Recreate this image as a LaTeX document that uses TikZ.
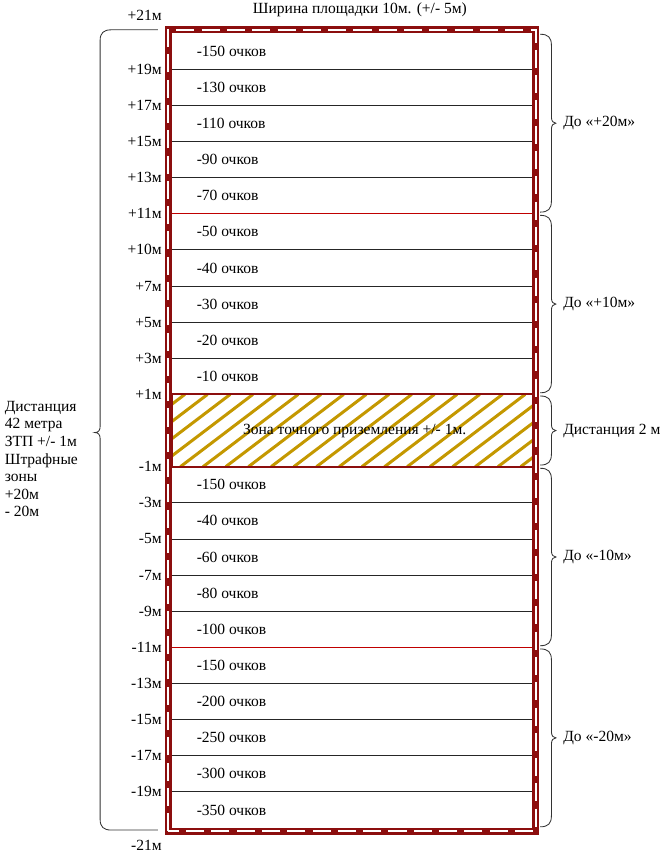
\documentclass[tikz,border=0pt]{standalone}
\usepackage{fontspec}
\setmainfont{Liberation Serif}

\definecolor{borderred}{RGB}{140,14,14}
\definecolor{linered}{RGB}{192,0,0}
\definecolor{hatchgold}{RGB}{196,152,0}

\tikzset{bracestyle/.style={black!80, line width=0.6pt},
  bracelabel/.style={anchor=west, inner sep=0}}

% right-hand brace: top, bottom, node name, text
\newcommand{\zonebrace}[4]{%
  \pgfmathsetmacro{\bracemid}{(#1+#2)/2}
  \draw[bracestyle] (9.17,#1) .. controls (9.37,#1) and (9.45,#1-0.08) .. (9.45,#1-0.28)
    -- (9.45,\bracemid+0.15) .. controls (9.45,\bracemid+0.05) and (9.5,\bracemid) .. (9.56,\bracemid)
    .. controls (9.5,\bracemid) and (9.45,\bracemid-0.05) .. (9.45,\bracemid-0.15)
    -- (9.45,#2+0.28) .. controls (9.45,#2+0.08) and (9.37,#2) .. (9.17,#2);
  \node[bracelabel] (#3) at (9.74,\bracemid) {#4};
}

\begin{document}
\begin{tikzpicture}[font=\fontsize{11}{12.5}\selectfont,
    score/.style={anchor=west, inner sep=0},
    level/.style={anchor=east, inner sep=0},
    rowline/.style={black!85, line width=0.6pt},
    limitline/.style={linered, line width=0.6pt}]
    \useasboundingbox (-4.284, -0.672) rectangle (12.354, 20.623);

    \node (width) at (4.68, 20.37) {Ширина площадки 10м. (+/- 5м)};

    % touchdown zone
    \begin{scope}
      \clip (0, 9.0) rectangle (9.0, 10.8);
      \foreach \x in {-2.05, -1.485, ..., 9.2}
        \draw [hatchgold, line width=0.075cm] (\x, 9.0) -- (\x+2.37, 10.8);
    \end{scope}
    \draw [borderred, line width=1.4pt] (0, 9.0) rectangle (9.0, 10.8);
    \node (zone) at (4.55, 9.9) {Зона точного приземления +/- 1м.};

    \draw [rowline] (0, 18.9) -- (9.0, 18.9);
    \draw [rowline] (0, 18.0) -- (9.0, 18.0);
    \draw [rowline] (0, 17.1) -- (9.0, 17.1);
    \draw [rowline] (0, 16.2) -- (9.0, 16.2);
    \draw [limitline] (0, 15.3) -- (9.0, 15.3);
    \draw [rowline] (0, 14.4) -- (9.0, 14.4);
    \draw [rowline] (0, 13.5) -- (9.0, 13.5);
    \draw [rowline] (0, 12.6) -- (9.0, 12.6);
    \draw [rowline] (0, 11.7) -- (9.0, 11.7);
    \draw [rowline] (0, 8.1) -- (9.0, 8.1);
    \draw [rowline] (0, 7.2) -- (9.0, 7.2);
    \draw [rowline] (0, 6.3) -- (9.0, 6.3);
    \draw [rowline] (0, 5.4) -- (9.0, 5.4);
    \draw [limitline] (0, 4.5) -- (9.0, 4.5);
    \draw [rowline] (0, 3.6) -- (9.0, 3.6);
    \draw [rowline] (0, 2.7) -- (9.0, 2.7);
    \draw [rowline] (0, 1.8) -- (9.0, 1.8);
    \draw [rowline] (0, 0.9) -- (9.0, 0.9);

    \node [score] (up150) at (0.61, 19.35) {-150 очков};
    \node [score] (up130) at (0.61, 18.45) {-130 очков};
    \node [score] (up110) at (0.61, 17.55) {-110 очков};
    \node [score] (up90) at (0.61, 16.65) {-90 очков};
    \node [score] (up70) at (0.61, 15.75) {-70 очков};
    \node [score] (up50) at (0.61, 14.85) {-50 очков};
    \node [score] (up40) at (0.61, 13.95) {-40 очков};
    \node [score] (up30) at (0.61, 13.05) {-30 очков};
    \node [score] (up20) at (0.61, 12.15) {-20 очков};
    \node [score] (up10) at (0.61, 11.25) {-10 очков};
    \node [score] (dn150a) at (0.61, 8.55) {-150 очков};
    \node [score] (dn40) at (0.61, 7.65) {-40 очков};
    \node [score] (dn60) at (0.61, 6.75) {-60 очков};
    \node [score] (dn80) at (0.61, 5.85) {-80 очков};
    \node [score] (dn100) at (0.61, 4.95) {-100 очков};
    \node [score] (dn150b) at (0.61, 4.05) {-150 очков};
    \node [score] (dn200) at (0.61, 3.15) {-200 очков};
    \node [score] (dn250) at (0.61, 2.25) {-250 очков};
    \node [score] (dn300) at (0.61, 1.35) {-300 очков};
    \node [score] (dn350) at (0.61, 0.45) {-350 очков};

    % site border
    \draw [borderred, line width=0.17cm] (-0.09, -0.08) rectangle (9.06, 19.88);
    \draw [white, line width=0.045cm, dash pattern=on 0.45cm off 0.18cm] (-0.09, -0.08) rectangle (9.06, 19.88);

    \node [level] (p21) at (-0.25, 20.25) {+21м};
    \node [level] (p19) at (-0.25, 18.9) {+19м};
    \node [level] (p17) at (-0.25, 18.0) {+17м};
    \node [level] (p15) at (-0.25, 17.1) {+15м};
    \node [level] (p13) at (-0.25, 16.2) {+13м};
    \node [level] (p11) at (-0.25, 15.3) {+11м};
    \node [level] (p10) at (-0.25, 14.4) {+10м};
    \node [level] (p7) at (-0.25, 13.5) {+7м};
    \node [level] (p5) at (-0.25, 12.6) {+5м};
    \node [level] (p3) at (-0.25, 11.7) {+3м};
    \node [level] (p1) at (-0.25, 10.8) {+1м};
    \node [level] (m1) at (-0.25, 9.0) {-1м};
    \node [level] (m3) at (-0.25, 8.1) {-3м};
    \node [level] (m5) at (-0.25, 7.2) {-5м};
    \node [level] (m7) at (-0.25, 6.3) {-7м};
    \node [level] (m9) at (-0.25, 5.4) {-9м};
    \node [level] (m11) at (-0.25, 4.5) {-11м};
    \node [level] (m13) at (-0.25, 3.6) {-13м};
    \node [level] (m15) at (-0.25, 2.7) {-15м};
    \node [level] (m17) at (-0.25, 1.8) {-17м};
    \node [level] (m19) at (-0.25, 0.9) {-19м};
    \node [level] (m21) at (-0.25, -0.42) {-21м};

    % whole distance
    \draw [bracestyle] (-0.35, 19.88) -- (-1.52, 19.88) .. controls (-1.7, 19.88) and (-1.79, 19.8) .. (-1.79, 19.62)
      -- (-1.79, 10.0) .. controls (-1.79, 9.9) and (-1.84, 9.85) .. (-1.92, 9.85)
      .. controls (-1.84, 9.85) and (-1.79, 9.8) .. (-1.79, 9.7)
      -- (-1.79, 0.21) .. controls (-1.79, 0.03) and (-1.7, -0.05) .. (-1.52, -0.05) -- (-0.35, -0.05);
    \node [anchor=west, inner sep=0, align=left] (total) at (-4.17, 9.19)
      {Дистанция\\42 метра\\ЗТП +/- 1м\\Штрафные\\зоны\\+20м\\- 20м};

    \zonebrace{19.77}{15.34}{plus20}{До «+20м»}
    \zonebrace{15.26}{10.84}{plus10}{До «+10м»}
    \zonebrace{10.76}{9.04}{exact}{Дистанция 2 м}
    \zonebrace{8.96}{4.54}{minus10}{До «-10м»}
    \zonebrace{4.46}{0.03}{minus20}{До «-20м»}
  \end{tikzpicture}
\end{document}
